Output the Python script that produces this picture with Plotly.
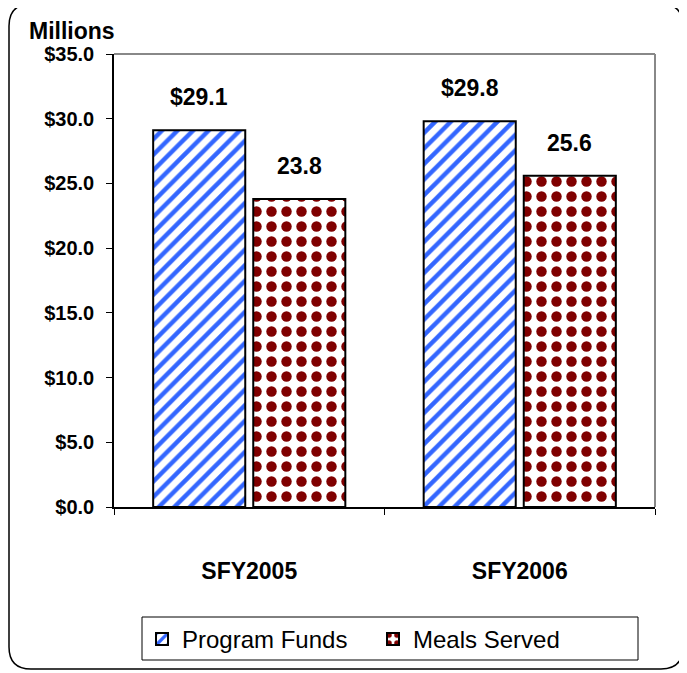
import plotly.graph_objects as go

categories = ["SFY2005", "SFY2006"]
program_funds = [29.1, 29.8]
meals_served = [23.8, 25.6]
program_labels = ["$29.1", "$29.8"]
meals_labels = ["23.8", "25.6"]

# page body has an 8px margin; targets below are in screenshot pixels
OFF = 8
W, H = 687 - OFF, 673 - OFF
ML, MR, MT, MB = 114 - OFF, 32, 54 - OFF, 166
PW, PH = W - ML - MR, H - MT - MB

def px(x):
    return (x - OFF - ML) / PW

def py(y):
    return (H - MB - (y - OFF)) / PH

FONT = "Liberation Sans, Arial, sans-serif"

fig = go.Figure()
fig.add_trace(go.Bar(
    name="Program Funds", x=categories, y=program_funds,
    marker=dict(color="white", line=dict(color="black", width=2),
                pattern=dict(shape="/", fgcolor="#3366FF", bgcolor="white",
                             size=11, solidity=0.4, fillmode="replace")),
))
fig.add_trace(go.Bar(
    name="Meals Served", x=categories, y=meals_served,
    marker=dict(color="#800000", line=dict(color="black", width=2),
                pattern=dict(shape=".", fgcolor="#800000", bgcolor="white",
                             size=15, solidity=0.38, fillmode="replace")),
))

annotations = []
for i, c in enumerate(categories):
    annotations.append(dict(x=c, y=program_funds[i], text=program_labels[i], xshift=-50,
                            yshift=18, yanchor="bottom", showarrow=False,
                            font=dict(size=23, family=FONT, color="black", weight="bold")))
    annotations.append(dict(x=c, y=meals_served[i], text=meals_labels[i], xshift=50,
                            yshift=18, yanchor="bottom", showarrow=False,
                            font=dict(size=23, family=FONT, color="black", weight="bold")))
annotations.append(dict(xref="paper", yref="paper", x=px(27), y=py(31), text="<b>Millions</b>",
                        xanchor="left", yanchor="middle", showarrow=False,
                        font=dict(size=23, family=FONT, color="black")))

r = 22
L, R, T, B = px(9), px(683), py(4), py(669)
rx, ry = r / PW, r / PH
border_path = (f"M{L+rx},{T} L{R-rx},{T} Q{R},{T} {R},{T-ry} L{R},{B+ry} Q{R},{B} {R-rx},{B} "
               f"L{L+rx},{B} Q{L},{B} {L},{B+ry} L{L},{T-ry} Q{L},{T} {L+rx},{T} Z")

shapes = [
    dict(type="path", xref="paper", yref="paper", path=border_path,
         line=dict(color="black", width=1.5), layer="below"),
    dict(type="line", xref="paper", yref="paper", x0=0, x1=1, y0=1, y1=1,
         line=dict(color="#888888", width=2)),
    dict(type="line", xref="paper", yref="paper", x0=1, x1=1, y0=0, y1=1,
         line=dict(color="#888888", width=2)),
    dict(type="rect", xref="paper", yref="paper", x0=px(142), x1=px(638), y0=py(660), y1=py(617),
         line=dict(color="black", width=1), layer="below"),
]

fig.update_layout(
    width=W, height=H,
    margin=dict(l=ML, r=MR, t=MT, b=MB, autoexpand=False),
    paper_bgcolor="white", plot_bgcolor="white",
    font=dict(family=FONT, color="black"),
    barmode="group", bargap=0.26, bargroupgap=0.08,
    showlegend=True,
    legend=dict(orientation="h", x=px(142), y=py(617), xanchor="left", yanchor="top",
                borderwidth=0, bgcolor="rgba(0,0,0,0)",
                font=dict(size=24, family=FONT, color="black"),
                entrywidth=186, itemwidth=30, tracegroupgap=0),
    xaxis=dict(type="category", showline=True, linecolor="black", linewidth=1.5,
               ticks="outside", tickson="boundaries", ticklen=6, tickcolor="black",
               showgrid=False, ticklabelstandoff=43,
               tickfont=dict(size=23, family=FONT, color="black", weight="bold")),
    yaxis=dict(range=[0, 35], dtick=5, tickprefix="$", tickformat=".1f",
               showline=True, linecolor="black", linewidth=1.5,
               ticks="outside", ticklen=6, tickcolor="black", showgrid=False,
               zeroline=False, ticklabelstandoff=8,
               tickfont=dict(size=20, family=FONT, color="black", weight="bold")),
    annotations=annotations, shapes=shapes,
)

fig.write_html("out.html")
